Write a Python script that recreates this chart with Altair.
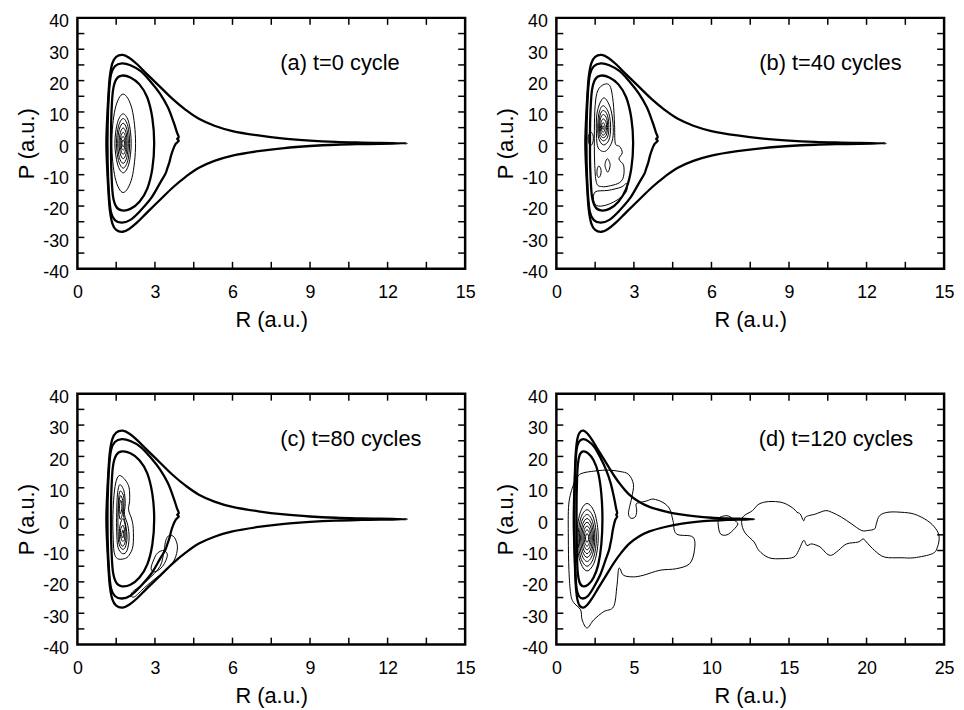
import altair as alt
import pandas as pd

FONT = "Liberation Sans"

# ---------------- axes / ticks ----------------
X_LABELS_15 = [0, 3, 6, 9, 12, 15]
X_TICKS_15 = [1.5, 3, 4.5, 6, 7.5, 9, 10.5, 12, 13.5]
X_LABELS_25 = [0, 5, 10, 15, 20, 25]
X_TICKS_25 = [2.5, 5, 7.5, 10, 12.5, 15, 17.5, 20, 22.5]
Y_LABELS = [-40, -30, -20, -10, 0, 10, 20, 30, 40]
Y_TICKS = [-35, -30, -25, -20, -15, -10, -5, 0, 5, 10, 15, 20, 25, 30, 35]

PANEL_LABELS = ["(a) t=0 cycle", "(b) t=40 cycles", "(c) t=80 cycles", "(d) t=120 cycles"]
LABEL_R = [7.85, 7.85, 7.85, 13.05]
LABEL_P = [25.6, 25.6, 25.6, 25.6]

# ---------------- thick (separatrix-like) curves, shared by all panels ----------------
SEP_OUTER = [(12.75, 0.0), (11.0, 0.25), (10.0, 0.45), (9.0, 0.85), (8.0, 1.5), (7.0, 2.5),
             (6.0, 3.9), (5.3, 5.6), (4.7, 7.8), (4.2, 10.6), (3.7, 14.0), (3.2, 18.0),
             (2.7, 22.0), (2.3, 25.3), (2.0, 27.3), (1.75, 28.2), (1.5, 27.6), (1.35, 25.5),
             (1.25, 21.0), (1.19, 14.0), (1.14, 6.0), (1.12, 0.0), (1.14, -6.0), (1.19, -14.0),
             (1.25, -21.0), (1.35, -25.5), (1.5, -27.6), (1.75, -28.2), (2.0, -27.3),
             (2.3, -25.3), (2.7, -22.0), (3.2, -18.0), (3.7, -14.0), (4.2, -10.6), (4.7, -7.8),
             (5.3, -5.6), (6.0, -3.9), (7.0, -2.5), (8.0, -1.5), (9.0, -0.85), (10.0, -0.45),
             (11.0, -0.25)]
SEP_MID = [(1.72, 25.5), (2.05, 24.9), (2.45, 23.0), (2.85, 19.5), (3.2, 15.8), (3.5, 11.5),
           (3.72, 6.8), (3.85, 3.5), (3.92, 2.0), (3.86, 1.4), (3.92, 0.8), (3.8, -0.2),
           (3.7, -2.0), (3.62, -4.0), (3.56, -6.0), (3.47, -8.2), (3.4, -9.8), (3.2, -12.6),
           (2.85, -17.5), (2.4, -21.8), (2.05, -24.4), (1.72, -25.3), (1.45, -24.5),
           (1.3, -22.0), (1.22, -16.0), (1.17, -6.0), (1.17, 6.0), (1.22, 16.0), (1.3, 22.0),
           (1.45, 24.6)]
SEP_INNER = [(1.72, 21.6), (2.05, 21.0), (2.4, 18.8), (2.7, 14.7), (2.9, 8.0), (2.97, 0.0),
             (2.9, -8.0), (2.7, -14.5), (2.4, -18.6), (2.05, -20.9), (1.72, -21.4),
             (1.5, -20.2), (1.37, -16.5), (1.31, -8.0), (1.3, 0.0), (1.31, 8.0), (1.37, 16.5),
             (1.5, 20.4)]

# ---------------- panel (a) thin contours ----------------
A1 = [(1.77, 15.7), (2.11, 11.0), (2.25, 0.0), (2.11, -11.0), (1.77, -15.7), (1.46, -11.0), (1.33, 0.0), (1.46, 11.0)]
A2 = [(1.77, 9.4), (1.99, 6.6), (2.08, 0.0), (1.99, -6.6), (1.77, -9.4), (1.55, -6.6), (1.45, 0.0), (1.55, 6.6)]
A3 = [(1.77, 7.9), (1.95, 5.5), (2.02, 0.0), (1.95, -5.5), (1.77, -7.9), (1.59, -5.5), (1.51, 0.0), (1.59, 5.5)]
A4 = [(1.77, 6.4), (1.91, 4.5), (1.97, 0.0), (1.91, -4.5), (1.77, -6.4), (1.62, -4.5), (1.56, 0.0), (1.62, 4.5)]
A5 = [(1.77, 4.9), (1.88, 3.4), (1.92, 0.0), (1.88, -3.4), (1.77, -4.9), (1.66, -3.4), (1.61, 0.0), (1.66, 3.4)]
A6 = [(1.77, 3.5), (1.85, 2.45), (1.88, 0.0), (1.85, -2.45), (1.77, -3.5), (1.69, -2.45), (1.65, 0.0), (1.69, 2.45)]
A7 = [(1.77, 2.2), (1.82, 1.55), (1.85, 0.0), (1.82, -1.55), (1.77, -2.2), (1.71, -1.55), (1.69, 0.0), (1.71, 1.55)]
A8 = [(1.77, 1.1), (1.8, 0.77), (1.82, 0.0), (1.8, -0.77), (1.77, -1.1), (1.74, -0.77), (1.72, 0.0), (1.74, 0.77)]

# ---------------- panel (b) thin contours ----------------
B_OUT = [(1.85, 18.8), (2.08, 18.2), (2.2, 13.0), (2.25, 6.0), (2.28, 0.0), (2.45, -1.0),
         (2.55, -3.0), (2.42, -5.0), (2.6, -7.0), (2.6, -10.5), (2.45, -12.5), (2.1, -13.5),
         (1.75, -13.8), (1.55, -12.5), (1.48, -6.0), (1.47, 4.0), (1.5, 12.0), (1.6, 16.8)]
B_BOT = [(1.5, -15.5), (2.0, -15.0), (2.5, -14.0), (2.72, -12.8), (2.7, -15.5), (2.4, -17.8),
         (2.0, -19.5), (1.62, -20.0), (1.45, -18.5)]
B_N1 = [(1.83, 14.5), (2.1, 11.0), (2.2, 5.0), (2.15, 0.5), (1.9, -2.5), (1.62, -1.5), (1.55, 3.0), (1.58, 10.0)]
B_N2 = [(1.82, 12.0), (2.03, 9.5), (2.1, 5.0), (2.03, 1.0), (1.82, -0.5), (1.64, 1.5), (1.6, 5.5), (1.66, 10.0)]
B_N3 = [(1.82, 10.5), (1.98, 8.8), (2.03, 5.0), (1.98, 2.0), (1.82, 0.8), (1.67, 2.2), (1.64, 5.5), (1.69, 9.0)]
B_N4 = [(1.82, 9.2), (1.95, 7.8), (1.98, 5.0), (1.93, 2.6), (1.81, 1.8), (1.7, 2.8), (1.67, 5.3), (1.71, 8.0)]
B_N5 = [(1.82, 7.8), (1.92, 6.8), (1.94, 5.0), (1.9, 3.3), (1.81, 2.6), (1.73, 3.4), (1.71, 5.2), (1.74, 7.0)]
B_N6 = [(1.81, 6.6), (1.87, 5.9), (1.89, 5.0), (1.86, 4.0), (1.81, 3.5), (1.76, 4.0), (1.74, 5.0), (1.76, 6.0)]
B_N7 = [(1.81, 5.6), (1.84, 5.0), (1.81, 4.4), (1.78, 5.0)]
B_LEFT = [(1.33, 3.6), (1.41, 2.8), (1.43, 1.4), (1.4, 0.0), (1.33, -0.7), (1.26, 0.0), (1.23, 1.4), (1.26, 2.8)]
B_OVAL = [(1.65, -7.2), (1.72, -8.2), (1.73, -9.2), (1.7, -10.3), (1.64, -10.9), (1.58, -10.2), (1.57, -9.0), (1.59, -7.9)]
B_DIAM = [(1.97, -4.9), (2.08, -6.8), (1.99, -9.2), (1.88, -7.0)]

# ---------------- panel (c) thin contours ----------------
C_OUT = [(1.62, 13.9), (1.85, 12.5), (2.0, 10.0), (2.02, 6.0), (1.98, 3.0), (2.1, 0.0),
         (2.16, -3.0), (2.15, -8.5), (2.0, -11.5), (1.82, -12.6), (1.55, -12.6), (1.42, -10.5),
         (1.38, -5.0), (1.37, 0.0), (1.4, 6.0), (1.48, 11.5)]
C2 = [(1.64, 11.0), (1.8, 9.0), (1.85, 5.0), (1.82, 1.5), (1.95, -2.0), (2.0, -6.0), (1.92, -10.0),
      (1.75, -11.0), (1.57, -9.0), (1.52, -4.0), (1.52, 2.0), (1.55, 8.0)]
C3 = [(1.66, 9.0), (1.78, 7.5), (1.8, 4.5), (1.78, 1.5), (1.88, -2.5), (1.92, -6.0), (1.85, -9.0),
      (1.72, -9.5), (1.6, -7.5), (1.57, -3.0), (1.57, 2.0), (1.6, 7.0)]
C4 = [(1.67, 7.5), (1.75, 6.0), (1.76, 3.5), (1.72, 1.0), (1.65, 0.0), (1.6, 2.5), (1.61, 5.5)]
C5 = [(1.68, 6.0), (1.72, 4.5), (1.7, 2.5), (1.65, 1.8), (1.63, 3.5), (1.64, 5.0)]
C6 = [(1.78, 0.0), (1.86, -2.5), (1.88, -5.5), (1.82, -8.0), (1.72, -8.5), (1.63, -6.5), (1.63, -3.0), (1.7, -0.5)]
C7 = [(1.77, -2.0), (1.83, -4.0), (1.82, -6.5), (1.74, -7.0), (1.67, -5.5), (1.68, -3.0)]
C8 = [(1.76, -3.5), (1.79, -5.0), (1.75, -6.0), (1.71, -5.0)]
C_LOOP1 = [(3.55, -5.2), (3.75, -5.8), (3.87, -8.9), (3.75, -13.0), (3.4, -16.5), (3.05, -18.7),
           (2.6, -21.8), (2.2, -24.8), (2.1, -23.5), (2.7, -19.5), (3.2, -15.0), (3.35, -10.0),
           (3.42, -6.8)]
C_LOOP2 = [(3.1, -10.8), (3.35, -10.0), (3.48, -11.6), (3.3, -15.0), (3.0, -16.8), (2.85, -15.8), (2.95, -13.0)]

# ---------------- panel (d) thin contours ----------------
D1 = [(1.98, 5.0), (2.48, 1.8), (2.7, -5.75), (2.48, -13.3), (1.98, -16.5), (1.52, -13.3), (1.32, -5.75), (1.52, 1.8)]
D2 = [(1.98, 3.0), (2.4, 0.3), (2.58, -6.0), (2.4, -12.3), (1.98, -15.0), (1.57, -12.3), (1.4, -6.0), (1.57, 0.3)]
D3 = [(1.98, 1.5), (2.33, -0.75), (2.48, -6.0), (2.33, -11.25), (1.98, -13.5), (1.63, -11.25), (1.48, -6.0), (1.63, -0.75)]
D4 = [(1.98, 0.2), (2.27, -1.66), (2.4, -6.0), (2.27, -10.34), (1.98, -12.2), (1.69, -10.34), (1.56, -6.0), (1.69, -1.66)]
D5 = [(1.98, -1.0), (2.22, -2.5), (2.32, -6.0), (2.22, -9.5), (1.98, -11.0), (1.74, -9.5), (1.64, -6.0), (1.74, -2.5)]
D6 = [(1.98, -2.2), (2.16, -3.34), (2.24, -6.0), (2.16, -8.66), (1.98, -9.8), (1.8, -8.66), (1.72, -6.0), (1.8, -3.34)]
D7 = [(1.98, -3.4), (2.11, -4.18), (2.16, -6.0), (2.11, -7.82), (1.98, -8.6), (1.85, -7.82), (1.8, -6.0), (1.85, -4.18)]
D8 = [(1.98, -4.6), (2.05, -5.02), (2.08, -6.0), (2.05, -6.98), (1.98, -7.4), (1.91, -6.98), (1.88, -6.0), (1.91, -5.02)]
D_BIG = [(1.77, 14.8), (2.41, 15.3), (3.0, 15.6), (3.47, 15.6), (4.1, 15.2), (4.65, 14.3), (4.97, 11.1),
         (4.86, 6.9), (4.71, 3.7), (4.65, 1.6), (4.8, 0.3), (5.08, 0.7), (5.18, 2.6), (5.14, 4.8),
         (5.39, 5.3), (5.82, 5.8), (6.24, 6.4), (6.88, 5.3), (7.31, 3.2), (7.52, -0.5), (7.74, -4.7),
         (8.8, -5.7), (8.9, -10.0), (8.59, -14.2), (7.74, -15.8), (6.67, -16.3), (5.6, -17.9),
         (4.97, -18.4), (4.33, -17.9), (4.11, -15.8), (4.0, -16.3), (3.9, -21.5), (3.69, -27.9),
         (3.05, -29.5), (2.41, -32.1), (1.98, -34.7), (1.66, -32.1), (1.56, -28.9), (1.1, -26.5),
         (0.92, -23.7), (0.81, -16.3), (0.77, -5.7), (0.8, 4.8), (1.1, 11.0), (1.4, 13.8)]
D_SMALL = [(10.45, 0.0), (10.7, 0.9), (11.1, 1.0), (11.45, -0.3), (11.7, -1.5), (11.4, -3.5),
           (11.0, -5.0), (10.6, -4.8), (10.45, -2.5)]
D_CHAIN = [(12.1, 1.1), (12.64, 2.7), (13.06, 4.8), (13.7, 5.6), (14.56, 5.3), (15.2, 3.7), (15.52, 2.2),
           (15.73, 1.6), (15.94, -0.5), (16.05, 0.6), (16.26, 1.1), (16.69, 1.6), (17.33, 2.7),
           (17.75, 2.2), (18.39, 0.6), (19.03, -1.5), (19.67, -3.6), (20.1, -3.6), (20.52, -3.1),
           (20.63, -1.5), (20.84, 1.1), (21.38, 2.2), (22.23, 2.2), (23.08, 1.6), (23.93, -0.5),
           (24.47, -3.1), (24.68, -5.7), (24.57, -8.9), (24.25, -11.0), (23.08, -12.3), (22.23, -12.3),
           (21.16, -12.1), (20.52, -10.0), (19.99, -7.3), (19.78, -6.3), (19.46, -7.3), (18.71, -7.9),
           (18.18, -10.0), (17.75, -11.5), (17.43, -11.0), (17.01, -8.9), (16.47, -7.9), (16.16, -8.4),
           (15.94, -6.8), (15.62, -10.0), (15.31, -12.1), (14.56, -12.6), (13.7, -12.3), (13.06, -10.0),
           (12.75, -7.3), (12.22, -4.7), (12.0, -2.6), (11.95, -0.5)]

THICK = [SEP_OUTER, SEP_MID, SEP_INNER]
THIN_A = [A1, A2, A3, A4, A5, A6, A7, A8]
THIN_B = [B_OUT, B_BOT, B_N1, B_N2, B_N3, B_N4, B_N5, B_N6, B_N7, B_LEFT, B_OVAL, B_DIAM]
THIN_C = [C_OUT, C2, C3, C4, C5, C6, C7, C8, C_LOOP1, C_LOOP2]
THIN_D = [D1, D2, D3, D4, D5, D6, D7, D8, D_BIG, D_SMALL, D_CHAIN]

W, H = 391, 253
TL = 7  # inner tick length (px)


def curves_df(curves):
    rows = []
    for cid, pts in enumerate(curves):
        for i, (r, p) in enumerate(pts):
            rows.append({"R": r, "P": p, "cid": cid, "i": i})
    return pd.DataFrame(rows)


def panel(thin, xmax, xlabels, xticks, label, lr, lp):
    xscale = alt.Scale(domain=[0, xmax], nice=False, zero=False)
    yscale = alt.Scale(domain=[-40, 40], nice=False, zero=False)
    xaxis = alt.Axis(values=xlabels, title="R (a.u.)", labelExpr="'' + datum.value")
    yaxis = alt.Axis(values=Y_LABELS, title="P (a.u.)", labelExpr="'' + datum.value")

    def X(f):
        return alt.X(f, type="quantitative", scale=xscale, axis=xaxis)

    def Y(f):
        return alt.Y(f, type="quantitative", scale=yscale, axis=yaxis)

    thick = alt.Chart(curves_df(THICK)).mark_line(
        interpolate="cardinal-closed", color="black", strokeWidth=2.3
    ).encode(x=X("R"), y=Y("P"), detail="cid:N", order="i:Q")
    thin_l = alt.Chart(curves_df(thin)).mark_line(
        interpolate="cardinal-closed", color="black", strokeWidth=1.0
    ).encode(x=X("R"), y=Y("P"), detail="cid:N", order="i:Q")

    xt = pd.DataFrame({"v": xticks})
    yt = pd.DataFrame({"v": Y_TICKS})
    rule = dict(color="black", strokeWidth=1.5)
    t_bottom = alt.Chart(xt).mark_rule(**rule).encode(x=X("v"), y=alt.value(H), y2=alt.value(H - TL))
    t_top = alt.Chart(xt).mark_rule(**rule).encode(x=X("v"), y=alt.value(0), y2=alt.value(TL))
    t_left = alt.Chart(yt).mark_rule(**rule).encode(y=Y("v"), x=alt.value(0), x2=alt.value(TL))
    t_right = alt.Chart(yt).mark_rule(**rule).encode(y=Y("v"), x=alt.value(W), x2=alt.value(W - TL))

    txt = alt.Chart(pd.DataFrame({"R": [lr], "P": [lp], "t": [label]})).mark_text(
        align="left", baseline="middle", font=FONT, fontSize=22, color="black"
    ).encode(x=X("R"), y=Y("P"), text="t:N")

    return alt.layer(thin_l, thick, t_bottom, t_top, t_left, t_right, txt).properties(width=W, height=H)


pa = panel(THIN_A, 15, X_LABELS_15, X_TICKS_15, PANEL_LABELS[0], LABEL_R[0], LABEL_P[0])
pb = panel(THIN_B, 15, X_LABELS_15, X_TICKS_15, PANEL_LABELS[1], LABEL_R[1], LABEL_P[1])
pc = panel(THIN_C, 15, X_LABELS_15, X_TICKS_15, PANEL_LABELS[2], LABEL_R[2], LABEL_P[2])
pd_ = panel(THIN_D, 25, X_LABELS_25, X_TICKS_25, PANEL_LABELS[3], LABEL_R[3], LABEL_P[3])

chart = alt.concat(
    pa, pb, pc, pd_, columns=2, spacing={"row": 126, "column": 92}, bounds="flush"
).properties(
    padding={"left": 6, "top": 0, "right": 0, "bottom": 0}
).configure_axis(
    labelFont=FONT, labelFontSize=18, labelColor="black",
    titleFont=FONT, titleFontSize=22, titleFontWeight="normal", titleColor="black",
    grid=False, domain=False, ticks=False, tickSize=0,
    labelFlush=False, labelOverlap=False,
).configure_axisX(
    labelPadding=15, titlePadding=8
).configure_axisY(
    labelPadding=9, titlePadding=4, labelOffset=4
).configure_view(
    stroke="black", strokeWidth=2.5
)

chart.save("out.html", embed_options={"renderer": "svg", "actions": False})
